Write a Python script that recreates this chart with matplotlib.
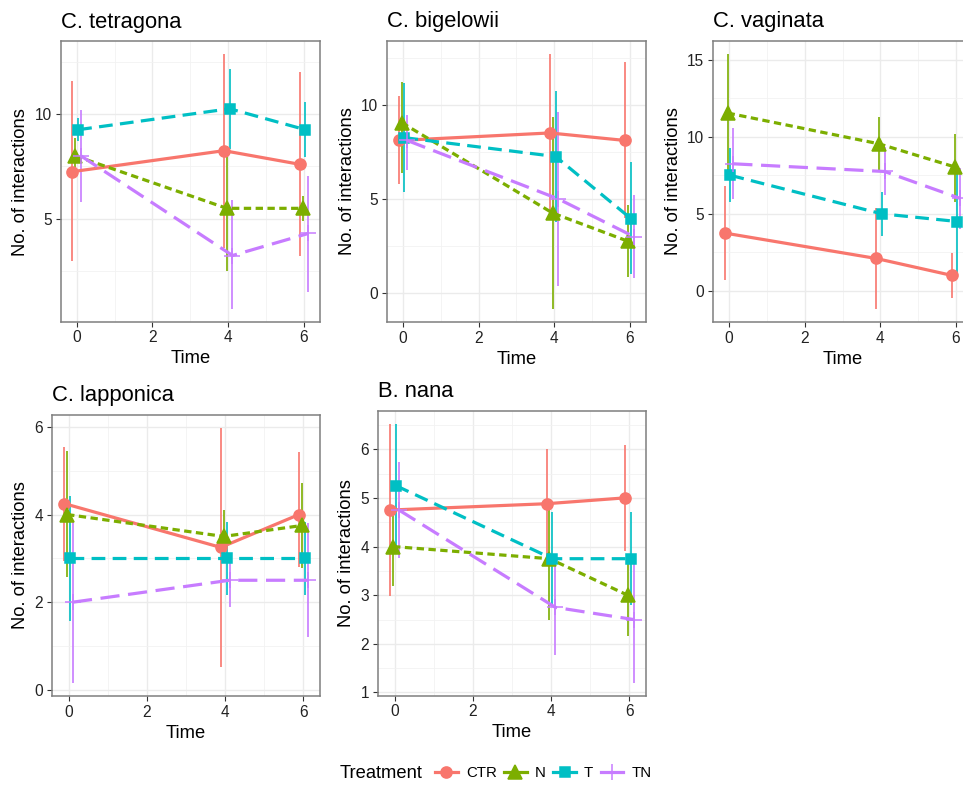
import numpy as np
import matplotlib
matplotlib.use("Agg")
import matplotlib.pyplot as plt
from matplotlib.lines import Line2D
from matplotlib.ticker import MultipleLocator

plt.rcParams['font.family'] = ['Liberation Sans', 'DejaVu Sans']

times = [0, 4, 6]
treatments = ["CTR", "N", "T", "TN"]

# rows: CTR, N, T, TN ; columns: time 0, 4, 6
tetragona_mean = [[7.25, 8.25, 7.6], [8.0, 5.5, 5.5], [9.25, 10.25, 9.25], [8.0, 3.25, 4.3]]
tetragona_lo = [[3.0, 3.6, 3.25], [7.15, 2.5, 4.9], [8.7, 8.35, 7.95], [5.8, 0.7, 1.5]]
tetragona_hi = [[11.55, 12.85, 12.0], [8.85, 8.45, 6.1], [9.8, 12.15, 10.55], [10.2, 5.9, 7.05]]

bigelowii_mean = [[8.1, 8.5, 8.1], [9.05, 4.25, 2.75], [8.25, 7.25, 3.95], [8.1, 5.0, 3.0]]
bigelowii_lo = [[5.8, 4.3, 4.0], [6.4, -0.85, 0.85], [5.35, 3.8, 1.0], [6.55, 0.4, 0.8]]
bigelowii_hi = [[10.45, 12.7, 12.25], [11.2, 9.35, 4.7], [11.15, 10.7, 6.95], [9.45, 9.6, 5.2]]

vaginata_mean = [[3.75, 2.1, 1.0], [11.55, 9.55, 8.05], [7.5, 5.0, 4.5], [8.25, 7.75, 6.0]]
vaginata_lo = [[0.7, -1.2, -0.45], [7.7, 7.8, 5.75], [5.75, 3.55, 0.85], [5.95, 6.2, 4.0]]
vaginata_hi = [[6.8, 5.4, 2.45], [15.4, 11.3, 10.2], [9.3, 6.45, 8.2], [10.55, 9.35, 8.0]]

lapponica_mean = [[4.25, 3.25, 4.0], [4.0, 3.5, 3.75], [3.0, 3.0, 3.0], [2.0, 2.5, 2.5]]
lapponica_lo = [[2.95, 0.53, 2.8], [2.57, 2.9, 2.78], [1.57, 2.17, 2.17], [0.15, 1.9, 1.2]]
lapponica_hi = [[5.55, 5.98, 5.42], [5.45, 4.1, 4.73], [4.43, 3.83, 3.83], [3.85, 3.1, 3.8]]

nana_mean = [[4.75, 4.88, 5.0], [4.0, 3.75, 3.0], [5.25, 3.75, 3.75], [4.75, 2.75, 2.5]]
nana_lo = [[2.99, 3.75, 3.9], [3.18, 2.48, 2.16], [3.95, 2.8, 2.79], [3.77, 1.77, 1.2]]
nana_hi = [[6.51, 6.01, 6.08], [4.8, 4.83, 3.8], [6.52, 4.72, 4.72], [5.73, 3.75, 3.8]]

colors = ["#F8766D", "#7CAE00", "#00BFC4", "#C77CFF"]
markers = ["o", "^", "s", "+"]
msizes = [8, 9.5, 7.5, 12]
dashes = [None, (2.3, 1.4), (4.3, 2.3), (6.0, 2.7)]
dodge = [-0.1125, -0.0375, 0.0375, 0.1125]

W, H = 963, 785
fig = plt.figure(figsize=(W / 100, H / 100), dpi=100)


def panel(box, title, mean, lo, hi, step):
    l, t, r, b = box
    ax = fig.add_axes([l / W, 1 - b / H, (r - l) / W, (b - t) / H])
    for k in range(4):
        x = np.array(times) + dodge[k]
        ax.vlines(x, lo[k], hi[k], color=colors[k], lw=1.2, zorder=3)
        ln, = ax.plot(x, mean[k], color=colors[k], lw=2.3, marker=markers[k],
                      ms=msizes[k], mew=1.1, zorder=4)
        if dashes[k]:
            ln.set_dashes(dashes[k])
    # ggplot-style 5% expansion of the data range
    xr = (min(times) + dodge[0], max(times) + dodge[-1])
    dx = 0.05 * (xr[1] - xr[0])
    ax.set_xlim(xr[0] - dx, xr[1] + dx)
    ylo, yhi = np.min(lo), np.max(hi)
    dy = 0.05 * (yhi - ylo)
    ax.set_ylim(ylo - dy, yhi + dy)
    ax.xaxis.set_major_locator(MultipleLocator(2))
    ax.xaxis.set_minor_locator(MultipleLocator(1))
    ax.yaxis.set_major_locator(MultipleLocator(step))
    ax.yaxis.set_minor_locator(MultipleLocator(step / 2))
    ax.grid(which="major", color="#ebebeb", lw=1.0, zorder=0)
    ax.grid(which="minor", color="#f2f2f2", lw=0.6, zorder=0)
    ax.set_axisbelow(True)
    for s in ax.spines.values():
        s.set_color("#7f7f7f")
        s.set_linewidth(1.1)
    ax.tick_params(which="major", length=3.8, width=0.8, color="#333333",
                   labelsize=11.2, labelcolor="#222222", pad=2.5)
    ax.tick_params(which="minor", length=0)
    ax.set_xlabel("Time", fontsize=13.2, labelpad=3.5)
    ax.set_ylabel("No. of interactions", fontsize=13.2, labelpad=4)
    ax.set_title(title, loc="left", fontsize=15.8, pad=10)
    return ax


panel((60.7, 41.5, 320, 321.7), "C. tetragona", tetragona_mean, tetragona_lo, tetragona_hi, 5)
panel((387, 41, 645.7, 322), "C. bigelowii", bigelowii_mean, bigelowii_lo, bigelowii_hi, 5)
panel((713, 41, 972, 322), "C. vaginata", vaginata_mean, vaginata_lo, vaginata_hi, 5)
panel((52, 415, 320, 696), "C. lapponica", lapponica_mean, lapponica_lo, lapponica_hi, 2)
panel((378, 411, 645.7, 695.7), "B. nana", nana_mean, nana_lo, nana_hi, 1)

handles = [Line2D([], [], color=colors[k], lw=2.3, marker=markers[k], ms=msizes[k], mew=1.1)
           for k in range(4)]
ly = 1 - 773 / H
fig.text(340 / W, ly, "Treatment", fontsize=13.2, va="center")
fig.legend(handles, treatments, ncol=4, frameon=False, loc="center left",
           bbox_to_anchor=(435 / W, ly), fontsize=10.8, handlelength=1.5,
           handletextpad=0.55, columnspacing=0.5, borderaxespad=0, borderpad=0)

fig.savefig("out.png", dpi=100)
